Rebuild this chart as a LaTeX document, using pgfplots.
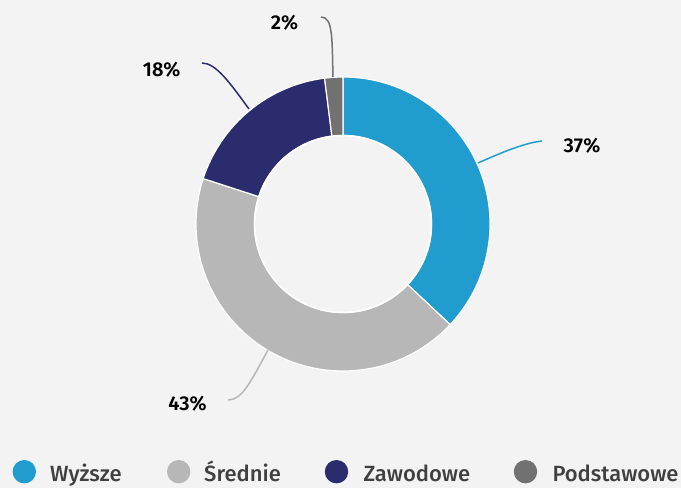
\documentclass[border=0pt]{standalone}
\usepackage{pgfplots}
\usepackage{pgfplotstable}
\pgfplotsset{compat=1.18}
\usepackage{fontspec}
\setmainfont{Fira Sans}[BoldFont={Fira Sans SemiBold}]
\newfontfamily\legfont{Fira Sans Medium}
\definecolor{bg}{HTML}{F3F3F3}
\definecolor{cA}{HTML}{219CCF}
\definecolor{cB}{HTML}{B7B7B7}
\definecolor{cC}{HTML}{2B2C6E}
\definecolor{cD}{HTML}{717171}
\definecolor{txt}{HTML}{404040}
\pgfplotstableread{
label value
Wyzsze 37
Srednie 43
Zawodowe 18
Podstawowe 2
}\datatable
\def\R{147}
\def\r{88.5}
\newcommand\slice[3]{%
  \fill[#3, draw=white, line width=1.2pt]
    ([shift={(#1:\R pt)}]axis cs:343,264) arc[start angle=#1, end angle=#2, radius=\R pt]
    -- ([shift={(#2:\r pt)}]axis cs:343,264) arc[start angle=#2, end angle=#1, radius=\r pt] -- cycle;}
\begin{document}
\begin{tikzpicture}
\pgfplotstablegetelem{0}{value}\of\datatable \let\vA\pgfplotsretval
\pgfplotstablegetelem{1}{value}\of\datatable \let\vB\pgfplotsretval
\pgfplotstablegetelem{2}{value}\of\datatable \let\vC\pgfplotsretval
\pgfplotstablegetelem{3}{value}\of\datatable \let\vD\pgfplotsretval
\pgfmathsetmacro\aA{90}
\pgfmathsetmacro\aB{\aA-3.6*\vA}
\pgfmathsetmacro\aC{\aB-3.6*\vB}
\pgfmathsetmacro\aD{\aC-3.6*\vC}
\pgfmathsetmacro\aE{\aD-3.6*\vD}
\begin{axis}[hide axis, x=1pt, y=1pt, xmin=0, xmax=681, ymin=0, ymax=488, clip=false]
\fill[bg] (axis cs:0,0) rectangle (axis cs:681,488);
\slice{\aA}{\aB}{cA}
\slice{\aB}{\aC}{cB}
\slice{\aC}{\aD}{cC}
\slice{\aD}{\aE}{cD}
\draw[white, line width=1.5pt] (axis cs:343,264) circle[radius=\r pt];
% leader lines
\draw[cA, line width=1.5pt] (axis cs:478,325) .. controls (axis cs:505,337) and (axis cs:525,345) .. (axis cs:542,347);
\draw[cB, line width=1.5pt] (axis cs:268,138) .. controls (axis cs:250,105) and (axis cs:242,88) .. (axis cs:228,88);
\draw[cC, line width=1.5pt] (axis cs:249,379) .. controls (axis cs:230,405) and (axis cs:216,425) .. (axis cs:202,425);
\draw[cD, line width=1.5pt] (axis cs:333,411) .. controls (axis cs:332,450) and (axis cs:333,471) .. (axis cs:321,471);
% labels
\node[anchor=base, font=\fontsize{20}{24}\selectfont\bfseries] at (axis cs:582,335) {37\%};
\node[anchor=base, font=\fontsize{20}{24}\selectfont\bfseries] at (axis cs:187.5,77) {43\%};
\node[anchor=base, font=\fontsize{20}{24}\selectfont\bfseries] at (axis cs:161.7,411) {18\%};
\node[anchor=base, font=\fontsize{20}{24}\selectfont\bfseries] at (axis cs:284.5,458) {2\%};
% legend
\fill[cA] (axis cs:24.3,16.3) circle[radius=11.7pt];
\fill[cB] (axis cs:178.7,16.3) circle[radius=11.7pt];
\fill[cC] (axis cs:336.5,16.3) circle[radius=11.7pt];
\fill[cD] (axis cs:525.5,16.3) circle[radius=11.7pt];
\node[anchor=base west, inner sep=0pt, text=txt, font=\fontsize{22}{26}\selectfont\legfont] at (axis cs:50,7) {Wyższe};
\node[anchor=base west, inner sep=0pt, text=txt, font=\fontsize{22}{26}\selectfont\legfont] at (axis cs:204,7) {Średnie};
\node[anchor=base west, inner sep=0pt, text=txt, font=\fontsize{22}{26}\selectfont\legfont] at (axis cs:363.3,7) {Zawodowe};
\node[anchor=base west, inner sep=0pt, text=txt, font=\fontsize{22}{26}\selectfont\legfont] at (axis cs:552.3,7) {Podstawowe};
\end{axis}
\end{tikzpicture}
\end{document}
